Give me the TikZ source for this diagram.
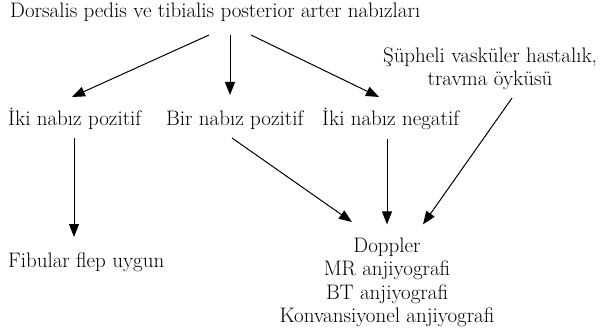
\documentclass[tikz,border=0pt]{standalone}
\usepackage{fontspec}
\usepackage{tikz}
\usetikzlibrary{arrows.meta,positioning}

\begin{document}
\begin{tikzpicture}[
    x=1pt, y=-1pt,
    txt/.style={
        font=\fontsize{21}{23.6}\selectfont,
        inner sep=0pt,
        align=center
    },
    arrow/.style={-{Triangle[length=13pt,width=10pt]}, line width=1pt}
]
\useasboundingbox (0,0) rectangle (600,334);

% =========================================
% Top: pulse examination
% =========================================
\node[txt, anchor=base west] (top) at (10,18)
    {Dorsalis pedis ve tibialis posterior arter nabızları};

% =========================================
% Middle row: findings
% =========================================
\node[txt, anchor=base west] (ikiPoz) at (8,126) {İki nabız pozitif};
\node[txt, anchor=base west] (birPoz) at (166,126) {Bir nabız pozitif};
\node[txt, anchor=base west] (ikiNeg) at (322,126) {İki nabız negatif};

\node[txt, anchor=north] (suphe) at (490,47.4) {
    Şüpheli vasküler hastalık,\\
    travma öyküsü
};

% =========================================
% Bottom: outcomes
% =========================================
\node[txt, anchor=base west] (fibular) at (8,267) {Fibular flep uygun};

\node[txt, anchor=north] (tests) at (387,237.4) {
    Doppler\\
    MR anjiyografi\\
    BT anjiyografi\\
    Konvansiyonel anjiyografi
};

% =========================================
% Arrows
% =========================================
\draw[arrow] ([shift={(199,17)}]top.base west) -- ([shift={(64,-29)}]ikiPoz.base west);
\draw[arrow] ([shift={(220,17)}]top.base west) -- ([shift={(64,-31)}]birPoz.base west);
\draw[arrow] ([shift={(241,17)}]top.base west) -- ([shift={(57,-29)}]ikiNeg.base west);

\draw[arrow] ([shift={(66,12)}]ikiPoz.base west) -- ([shift={(66,-30)}]fibular.base west);

% converging on the imaging tests
\draw[arrow] ([shift={(66,12)}]birPoz.base west) -- ([shift={(-35,-15.4)}]tests.north);
\draw[arrow] ([shift={(65,13)}]ikiNeg.base west) -- ([shift={(0,-13)}]tests.north);
\draw[arrow] ([shift={(22,7.7)}]suphe.south) -- ([shift={(36,-13)}]tests.north);

\end{tikzpicture}
\end{document}
